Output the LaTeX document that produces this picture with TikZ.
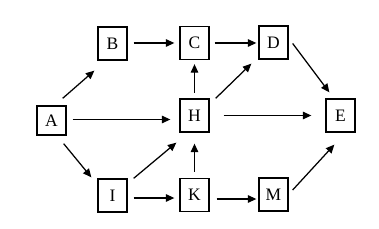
\documentclass[tikz,border=0pt]{standalone}
\usepackage{fontspec}
\setmainfont{Liberation Serif}
\usetikzlibrary{arrows.meta,calc}
\begin{document}
\begin{tikzpicture}[x=1pt,y=-1pt,
  box/.style={draw,line width=1.3pt,minimum width=29pt,minimum height=33pt,inner sep=0pt,font=\fontsize{17.5}{17.5}\selectfont},
  arr/.style={line width=1.25pt,-{Triangle[length=8.5pt,width=7.5pt]}}]
\useasboundingbox (0,0) rectangle (379,229);
\node[box] (B) at (112.5,43.5) {B};
\node[box] (C) at (194.5,43) {C};
\node[box] (D) at (273.5,42.5) {D};
\node[box,minimum height=29pt] (A) at (51.5,120.5) {A};
\node[box] (H) at (194.5,115.5) {H};
\node[box] (E) at (340.5,115.5) {E};
\node[box] (I) at (112.5,195.5) {I};
\node[box] (K) at (194.5,195) {K};
\node[box] (M) at (273.5,194.5) {M};
% horizontal arrows
\draw[arr] ($(B.east)+(6,-0.5)$) -- ($(C.west)+(-5,0)$);
\draw[arr] ($(C.east)+(5,0)$) -- ($(D.west)+(-2,0.5)$);
\draw[arr] ($(A.east)+(6,-1)$) -- ($(H.west)+(-9,4)$);
\draw[arr] ($(H.east)+(14,0)$) -- ($(E.west)+(-14,0)$);
\draw[arr] ($(I.east)+(6,2.5)$) -- ($(K.west)+(-5,3)$);
\draw[arr] ($(K.east)+(7,4)$) -- ($(M.west)+(-2,4.5)$);
% vertical arrows
\draw[arr] ($(H.north)+(0,-5.5)$) -- ($(C.south)+(0,4)$);
\draw[arr] ($(K.north)+(0,-6)$) -- ($(H.south)+(0,11)$);
% diagonal arrows
\draw[arr] ($(A.north east)+(-4,-7)$) -- ($(B.south west)+(-3,10)$);
\draw[arr] ($(A.south east)+(-3,8)$) -- ($(I.north west)+(-6,-1)$);
\draw[arr] ($(I.north east)+(6,0)$) -- ($(H.south west)+(-3,10)$);
\draw[arr] ($(H.north east)+(6,0)$) -- ($(D.south west)+(-7,4)$);
\draw[arr] ($(D.east)+(4,1)$) -- ($(E.north west)+(4,-6)$);
\draw[arr] ($(M.east)+(4,-4.5)$) -- ($(E.south west)+(9,12)$);
\end{tikzpicture}
\end{document}
